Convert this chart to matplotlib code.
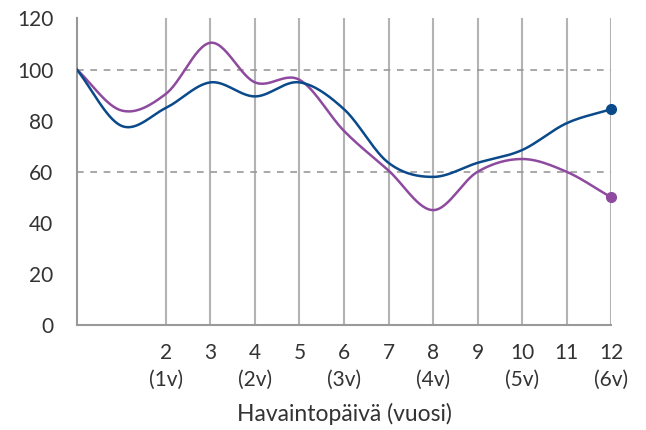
import numpy as np
import matplotlib.pyplot as plt

# data
days = [0, 1, 2, 3, 4, 5, 6, 7, 8, 9, 10, 11, 12]
blue_vals = [100, 78, 85, 95, 89.5, 95, 84.5, 63.5, 58, 63.5, 68.5, 79, 84.5]
purple_vals = [100, 84, 90.5, 110.5, 95, 96, 76, 60.5, 45, 60, 65, 60, 50]
tick_days = [2, 3, 4, 5, 6, 7, 8, 9, 10, 11, 12]
tick_labels = ['2\n(1v)', '3', '4\n(2v)', '5', '6\n(3v)', '7', '8\n(4v)',
               '9', '10\n(5v)', '11', '12\n(6v)']

BLUE = '#0a4a8a'
PURPLE = '#8e4a9f'


def catmull_rom(x, y, n=30):
    # smooth curve through the points (rendering only)
    x = np.asarray(x, float)
    y = np.asarray(y, float)
    m = np.zeros_like(y)
    m[1:-1] = (y[2:] - y[:-2]) / (x[2:] - x[:-2])
    m[0] = y[1] - y[0]
    m[-1] = y[-1] - y[-2]
    xs, ys = [], []
    for i in range(len(x) - 1):
        h = x[i + 1] - x[i]
        t = np.linspace(0, 1, n, endpoint=False)
        h00 = 2 * t**3 - 3 * t**2 + 1
        h10 = t**3 - 2 * t**2 + t
        h01 = -2 * t**3 + 3 * t**2
        h11 = t**3 - t**2
        xs.append(x[i] + t * h)
        ys.append(h00 * y[i] + h10 * h * m[i] + h01 * y[i + 1] + h11 * h * m[i + 1])
    xs.append([x[-1]])
    ys.append([y[-1]])
    return np.concatenate(xs), np.concatenate(ys)


plt.rcParams['font.family'] = ['Lato', 'DejaVu Sans']

fig = plt.figure(figsize=(6.46, 4.30), dpi=100)
ax = fig.add_axes([0.119, 0.244, 0.827, 0.713])

for d in tick_days:
    ax.axvline(d, color='#b3b3b3', lw=1.5, zorder=1)
for yv in [60, 100]:
    ax.plot([0, 12], [yv, yv], color='#999999', lw=1.2, dashes=(4, 4), zorder=1)

bx, by = catmull_rom(days, blue_vals)
px, py = catmull_rom(days, purple_vals)
ax.plot(px, py, color=PURPLE, lw=1.8, zorder=3)
ax.plot(bx, by, color=BLUE, lw=1.8, zorder=3)
ax.plot(days[-1], purple_vals[-1], 'o', color=PURPLE, ms=7, zorder=4, clip_on=False)
ax.plot(days[-1], blue_vals[-1], 'o', color=BLUE, ms=7, zorder=4, clip_on=False)

ax.set_xlim(0, 12)
ax.set_ylim(0, 120)
ax.set_yticks(range(0, 121, 20))
ax.set_xticks(tick_days)
ax.set_xticklabels(tick_labels, linespacing=1.45, va='top')
ax.tick_params(axis='both', length=0, labelsize=15, colors='#333333')
ax.tick_params(axis='y', pad=17)
ax.tick_params(axis='x', pad=13)

for s in ['top', 'right']:
    ax.spines[s].set_visible(False)
for s in ['left', 'bottom']:
    ax.spines[s].set_color('#999999')
    ax.spines[s].set_linewidth(1.5)

ax.set_xlabel('Havaintopäivä (vuosi)', fontsize=16.5, color='#333333', labelpad=9)

plt.savefig('out.png', dpi=100)
